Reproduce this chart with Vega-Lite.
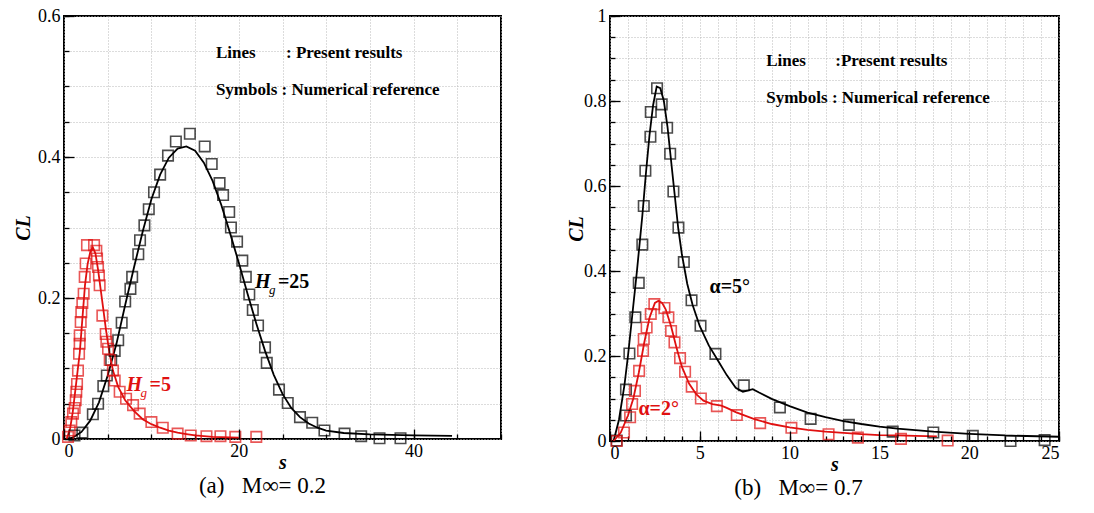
{
  "$schema": "https://vega.github.io/schema/vega-lite/v6.json",
  "background": "white",
  "padding": {"left": 12, "top": 6, "right": 5, "bottom": 2},
  "spacing": 62,
  "config": {
    "font": "Liberation Serif",
    "view": {"stroke": "black", "strokeWidth": 2},
    "axis": {
      "labelFont": "Liberation Serif", "labelFontSize": 18, "labelColor": "black",
      "titleFont": "Liberation Serif", "titleFontSize": 20, "titleFontWeight": "bold",
      "titleFontStyle": "italic", "titleColor": "black",
      "domain": false, "tickColor": "black", "tickWidth": 1.3,
      "gridColor": "#b8b8b8", "gridDash": [1, 2], "gridWidth": 1
    },
    "title": {"font": "Liberation Serif", "fontSize": 23, "fontWeight": "normal", "color": "black"}
  },
  "datasets": {
    "a_pts": [
      {"series": "Hg=25", "s": 1.2, "cl": 0.005}, {"series": "Hg=25", "s": 2.1, "cl": 0.009},
      {"series": "Hg=25", "s": 3.3, "cl": 0.035}, {"series": "Hg=25", "s": 3.9, "cl": 0.05},
      {"series": "Hg=25", "s": 4.5, "cl": 0.075}, {"series": "Hg=25", "s": 4.9, "cl": 0.09},
      {"series": "Hg=25", "s": 5.4, "cl": 0.112}, {"series": "Hg=25", "s": 5.8, "cl": 0.125},
      {"series": "Hg=25", "s": 6.2, "cl": 0.14}, {"series": "Hg=25", "s": 6.6, "cl": 0.165},
      {"series": "Hg=25", "s": 7.0, "cl": 0.195}, {"series": "Hg=25", "s": 7.6, "cl": 0.213},
      {"series": "Hg=25", "s": 7.8, "cl": 0.23}, {"series": "Hg=25", "s": 8.5, "cl": 0.262},
      {"series": "Hg=25", "s": 8.7, "cl": 0.282}, {"series": "Hg=25", "s": 9.2, "cl": 0.303},
      {"series": "Hg=25", "s": 9.7, "cl": 0.326}, {"series": "Hg=25", "s": 10.3, "cl": 0.35},
      {"series": "Hg=25", "s": 11.0, "cl": 0.375}, {"series": "Hg=25", "s": 11.9, "cl": 0.402},
      {"series": "Hg=25", "s": 12.8, "cl": 0.422}, {"series": "Hg=25", "s": 14.4, "cl": 0.433},
      {"series": "Hg=25", "s": 16.1, "cl": 0.415}, {"series": "Hg=25", "s": 16.9, "cl": 0.39},
      {"series": "Hg=25", "s": 17.8, "cl": 0.363}, {"series": "Hg=25", "s": 18.2, "cl": 0.346},
      {"series": "Hg=25", "s": 18.9, "cl": 0.322}, {"series": "Hg=25", "s": 19.1, "cl": 0.3},
      {"series": "Hg=25", "s": 19.8, "cl": 0.28}, {"series": "Hg=25", "s": 20.4, "cl": 0.253},
      {"series": "Hg=25", "s": 20.8, "cl": 0.23}, {"series": "Hg=25", "s": 21.2, "cl": 0.205},
      {"series": "Hg=25", "s": 21.6, "cl": 0.183}, {"series": "Hg=25", "s": 22.2, "cl": 0.161},
      {"series": "Hg=25", "s": 23.0, "cl": 0.13}, {"series": "Hg=25", "s": 23.2, "cl": 0.108},
      {"series": "Hg=25", "s": 24.6, "cl": 0.07}, {"series": "Hg=25", "s": 25.6, "cl": 0.051},
      {"series": "Hg=25", "s": 27.0, "cl": 0.031}, {"series": "Hg=25", "s": 28.4, "cl": 0.023},
      {"series": "Hg=25", "s": 29.8, "cl": 0.012}, {"series": "Hg=25", "s": 32.1, "cl": 0.0076},
      {"series": "Hg=25", "s": 34.0, "cl": 0.004}, {"series": "Hg=25", "s": 36.1, "cl": 0.001},
      {"series": "Hg=25", "s": 38.5, "cl": 0.001},
      {"series": "Hg=5", "s": 0.46, "cl": 0.003}, {"series": "Hg=5", "s": 0.65, "cl": 0.012},
      {"series": "Hg=5", "s": 0.84, "cl": 0.024}, {"series": "Hg=5", "s": 1.03, "cl": 0.036},
      {"series": "Hg=5", "s": 1.22, "cl": 0.044}, {"series": "Hg=5", "s": 1.34, "cl": 0.055},
      {"series": "Hg=5", "s": 1.41, "cl": 0.067}, {"series": "Hg=5", "s": 1.49, "cl": 0.078},
      {"series": "Hg=5", "s": 1.6, "cl": 0.097}, {"series": "Hg=5", "s": 1.72, "cl": 0.121},
      {"series": "Hg=5", "s": 1.79, "cl": 0.135}, {"series": "Hg=5", "s": 1.8, "cl": 0.147},
      {"series": "Hg=5", "s": 1.91, "cl": 0.166}, {"series": "Hg=5", "s": 1.98, "cl": 0.18},
      {"series": "Hg=5", "s": 2.1, "cl": 0.193}, {"series": "Hg=5", "s": 2.25, "cl": 0.206},
      {"series": "Hg=5", "s": 2.37, "cl": 0.23}, {"series": "Hg=5", "s": 2.48, "cl": 0.249},
      {"series": "Hg=5", "s": 2.63, "cl": 0.275}, {"series": "Hg=5", "s": 3.44, "cl": 0.275},
      {"series": "Hg=5", "s": 3.7, "cl": 0.267}, {"series": "Hg=5", "s": 3.78, "cl": 0.256},
      {"series": "Hg=5", "s": 3.89, "cl": 0.244}, {"series": "Hg=5", "s": 4.0, "cl": 0.232},
      {"series": "Hg=5", "s": 4.08, "cl": 0.218}, {"series": "Hg=5", "s": 4.39, "cl": 0.175},
      {"series": "Hg=5", "s": 4.77, "cl": 0.149}, {"series": "Hg=5", "s": 4.85, "cl": 0.138},
      {"series": "Hg=5", "s": 5.04, "cl": 0.128}, {"series": "Hg=5", "s": 5.23, "cl": 0.112},
      {"series": "Hg=5", "s": 5.6, "cl": 0.097}, {"series": "Hg=5", "s": 5.8, "cl": 0.083},
      {"series": "Hg=5", "s": 6.37, "cl": 0.067}, {"series": "Hg=5", "s": 7.1, "cl": 0.057},
      {"series": "Hg=5", "s": 7.9, "cl": 0.048}, {"series": "Hg=5", "s": 8.66, "cl": 0.036},
      {"series": "Hg=5", "s": 10.0, "cl": 0.024}, {"series": "Hg=5", "s": 11.3, "cl": 0.016},
      {"series": "Hg=5", "s": 13.0, "cl": 0.0076}, {"series": "Hg=5", "s": 14.5, "cl": 0.005},
      {"series": "Hg=5", "s": 16.3, "cl": 0.004}, {"series": "Hg=5", "s": 17.9, "cl": 0.004},
      {"series": "Hg=5", "s": 19.6, "cl": 0.003}, {"series": "Hg=5", "s": 22.0, "cl": 0.003}
    ],
    "a_lines": [
      {"series": "Hg=25", "s": 0.3, "cl": 0}, {"series": "Hg=25", "s": 1, "cl": 0.002},
      {"series": "Hg=25", "s": 2, "cl": 0.01}, {"series": "Hg=25", "s": 3, "cl": 0.026},
      {"series": "Hg=25", "s": 4, "cl": 0.052}, {"series": "Hg=25", "s": 5, "cl": 0.09},
      {"series": "Hg=25", "s": 6, "cl": 0.135}, {"series": "Hg=25", "s": 7, "cl": 0.19},
      {"series": "Hg=25", "s": 8, "cl": 0.243}, {"series": "Hg=25", "s": 9, "cl": 0.294},
      {"series": "Hg=25", "s": 10, "cl": 0.34}, {"series": "Hg=25", "s": 11, "cl": 0.375},
      {"series": "Hg=25", "s": 12, "cl": 0.399}, {"series": "Hg=25", "s": 13, "cl": 0.412},
      {"series": "Hg=25", "s": 14, "cl": 0.415}, {"series": "Hg=25", "s": 15, "cl": 0.409},
      {"series": "Hg=25", "s": 16, "cl": 0.392}, {"series": "Hg=25", "s": 17, "cl": 0.366},
      {"series": "Hg=25", "s": 18, "cl": 0.332}, {"series": "Hg=25", "s": 19, "cl": 0.292},
      {"series": "Hg=25", "s": 20, "cl": 0.25}, {"series": "Hg=25", "s": 21, "cl": 0.206},
      {"series": "Hg=25", "s": 22, "cl": 0.164}, {"series": "Hg=25", "s": 23, "cl": 0.125},
      {"series": "Hg=25", "s": 24, "cl": 0.091}, {"series": "Hg=25", "s": 25, "cl": 0.064},
      {"series": "Hg=25", "s": 26, "cl": 0.044}, {"series": "Hg=25", "s": 27, "cl": 0.031},
      {"series": "Hg=25", "s": 28, "cl": 0.022}, {"series": "Hg=25", "s": 29, "cl": 0.016},
      {"series": "Hg=25", "s": 30, "cl": 0.012}, {"series": "Hg=25", "s": 32, "cl": 0.0085},
      {"series": "Hg=25", "s": 35, "cl": 0.0065}, {"series": "Hg=25", "s": 40, "cl": 0.0052},
      {"series": "Hg=25", "s": 44.4, "cl": 0.0045},
      {"series": "Hg=5", "s": 0.3, "cl": 0}, {"series": "Hg=5", "s": 0.7, "cl": 0.015},
      {"series": "Hg=5", "s": 1.0, "cl": 0.038}, {"series": "Hg=5", "s": 1.4, "cl": 0.08},
      {"series": "Hg=5", "s": 1.8, "cl": 0.122}, {"series": "Hg=5", "s": 2.1, "cl": 0.17},
      {"series": "Hg=5", "s": 2.4, "cl": 0.218}, {"series": "Hg=5", "s": 2.7, "cl": 0.248},
      {"series": "Hg=5", "s": 3.0, "cl": 0.265}, {"series": "Hg=5", "s": 3.3, "cl": 0.272},
      {"series": "Hg=5", "s": 3.6, "cl": 0.263}, {"series": "Hg=5", "s": 3.9, "cl": 0.24},
      {"series": "Hg=5", "s": 4.2, "cl": 0.212}, {"series": "Hg=5", "s": 4.5, "cl": 0.184},
      {"series": "Hg=5", "s": 4.8, "cl": 0.155}, {"series": "Hg=5", "s": 5.2, "cl": 0.122},
      {"series": "Hg=5", "s": 5.6, "cl": 0.097}, {"series": "Hg=5", "s": 6.2, "cl": 0.074},
      {"series": "Hg=5", "s": 7, "cl": 0.055}, {"series": "Hg=5", "s": 8, "cl": 0.04},
      {"series": "Hg=5", "s": 9, "cl": 0.028}, {"series": "Hg=5", "s": 10, "cl": 0.021},
      {"series": "Hg=5", "s": 11, "cl": 0.016}, {"series": "Hg=5", "s": 12, "cl": 0.012},
      {"series": "Hg=5", "s": 13, "cl": 0.009}, {"series": "Hg=5", "s": 14, "cl": 0.007},
      {"series": "Hg=5", "s": 15, "cl": 0.005}, {"series": "Hg=5", "s": 17, "cl": 0.003},
      {"series": "Hg=5", "s": 20, "cl": 0.002}
    ],
    "a_text": [
      {"s": 17.38, "cl": 0.5475, "text": "Lines"},
      {"s": 25.4, "cl": 0.5475, "text": ": Present results"},
      {"s": 17.38, "cl": 0.4946, "text": "Symbols : Numerical reference"}
    ],
    "a_lab": [
      {"series": "Hg=25", "s": 21.85, "cl": 0.2227, "main": "H", "sub": "g", "eq": "=25"},
      {"series": "Hg=5", "s": 7.15, "cl": 0.076, "main": "H", "sub": "g", "eq": "=5"}
    ],
    "b_pts": [
      {"series": "α=5°", "s": 0.37, "cl": 0.001}, {"series": "α=5°", "s": 0.89, "cl": 0.06},
      {"series": "α=5°", "s": 0.89, "cl": 0.121}, {"series": "α=5°", "s": 1.08, "cl": 0.206},
      {"series": "α=5°", "s": 1.41, "cl": 0.291}, {"series": "α=5°", "s": 1.6, "cl": 0.372},
      {"series": "α=5°", "s": 1.8, "cl": 0.462}, {"series": "α=5°", "s": 1.88, "cl": 0.553},
      {"series": "α=5°", "s": 1.97, "cl": 0.636}, {"series": "α=5°", "s": 2.25, "cl": 0.716},
      {"series": "α=5°", "s": 2.27, "cl": 0.774}, {"series": "α=5°", "s": 2.62, "cl": 0.83},
      {"series": "α=5°", "s": 2.88, "cl": 0.792}, {"series": "α=5°", "s": 3.18, "cl": 0.737},
      {"series": "α=5°", "s": 3.35, "cl": 0.676}, {"series": "α=5°", "s": 3.53, "cl": 0.587},
      {"series": "α=5°", "s": 3.81, "cl": 0.502}, {"series": "α=5°", "s": 4.11, "cl": 0.421},
      {"series": "α=5°", "s": 4.54, "cl": 0.331}, {"series": "α=5°", "s": 5.04, "cl": 0.271},
      {"series": "α=5°", "s": 5.87, "cl": 0.205}, {"series": "α=5°", "s": 7.45, "cl": 0.131},
      {"series": "α=5°", "s": 9.46, "cl": 0.079}, {"series": "α=5°", "s": 11.17, "cl": 0.052},
      {"series": "α=5°", "s": 13.3, "cl": 0.038}, {"series": "α=5°", "s": 15.74, "cl": 0.022},
      {"series": "α=5°", "s": 18.0, "cl": 0.02}, {"series": "α=5°", "s": 20.2, "cl": 0.012},
      {"series": "α=5°", "s": 22.3, "cl": 0.0}, {"series": "α=5°", "s": 24.2, "cl": 0.002},
      {"series": "α=2°", "s": 0.37, "cl": 0.0}, {"series": "α=2°", "s": 0.78, "cl": 0.02},
      {"series": "α=2°", "s": 1.12, "cl": 0.056}, {"series": "α=2°", "s": 1.23, "cl": 0.087},
      {"series": "α=2°", "s": 1.39, "cl": 0.118}, {"series": "α=2°", "s": 1.62, "cl": 0.165},
      {"series": "α=2°", "s": 1.84, "cl": 0.212}, {"series": "α=2°", "s": 1.88, "cl": 0.24},
      {"series": "α=2°", "s": 2.04, "cl": 0.267}, {"series": "α=2°", "s": 2.27, "cl": 0.299},
      {"series": "α=2°", "s": 2.47, "cl": 0.322}, {"series": "α=2°", "s": 3.03, "cl": 0.313},
      {"series": "α=2°", "s": 3.25, "cl": 0.291}, {"series": "α=2°", "s": 3.4, "cl": 0.259},
      {"series": "α=2°", "s": 3.59, "cl": 0.232}, {"series": "α=2°", "s": 3.9, "cl": 0.195},
      {"series": "α=2°", "s": 4.18, "cl": 0.163}, {"series": "α=2°", "s": 4.55, "cl": 0.128},
      {"series": "α=2°", "s": 5.06, "cl": 0.1}, {"series": "α=2°", "s": 5.95, "cl": 0.082},
      {"series": "α=2°", "s": 7.06, "cl": 0.061}, {"series": "α=2°", "s": 8.36, "cl": 0.042},
      {"series": "α=2°", "s": 10.1, "cl": 0.031}, {"series": "α=2°", "s": 12.17, "cl": 0.016},
      {"series": "α=2°", "s": 13.8, "cl": 0.008}, {"series": "α=2°", "s": 16.2, "cl": 0.005},
      {"series": "α=2°", "s": 18.8, "cl": 0.001}
    ],
    "b_lines": [
      {"series": "α=5°", "s": 0.2, "cl": 0}, {"series": "α=5°", "s": 0.5, "cl": 0.05},
      {"series": "α=5°", "s": 0.8, "cl": 0.13}, {"series": "α=5°", "s": 1.0, "cl": 0.2},
      {"series": "α=5°", "s": 1.2, "cl": 0.28}, {"series": "α=5°", "s": 1.5, "cl": 0.4},
      {"series": "α=5°", "s": 1.8, "cl": 0.53}, {"series": "α=5°", "s": 2.0, "cl": 0.63},
      {"series": "α=5°", "s": 2.2, "cl": 0.72}, {"series": "α=5°", "s": 2.4, "cl": 0.79},
      {"series": "α=5°", "s": 2.6, "cl": 0.834}, {"series": "α=5°", "s": 2.8, "cl": 0.83},
      {"series": "α=5°", "s": 3.0, "cl": 0.8}, {"series": "α=5°", "s": 3.2, "cl": 0.74},
      {"series": "α=5°", "s": 3.4, "cl": 0.66}, {"series": "α=5°", "s": 3.6, "cl": 0.58},
      {"series": "α=5°", "s": 3.8, "cl": 0.5}, {"series": "α=5°", "s": 4.0, "cl": 0.44},
      {"series": "α=5°", "s": 4.3, "cl": 0.37}, {"series": "α=5°", "s": 4.6, "cl": 0.32},
      {"series": "α=5°", "s": 5.0, "cl": 0.27}, {"series": "α=5°", "s": 5.5, "cl": 0.225},
      {"series": "α=5°", "s": 6.0, "cl": 0.19}, {"series": "α=5°", "s": 6.5, "cl": 0.155},
      {"series": "α=5°", "s": 7.0, "cl": 0.125}, {"series": "α=5°", "s": 7.4, "cl": 0.116},
      {"series": "α=5°", "s": 7.7, "cl": 0.119}, {"series": "α=5°", "s": 7.95, "cl": 0.122},
      {"series": "α=5°", "s": 8.3, "cl": 0.114}, {"series": "α=5°", "s": 9, "cl": 0.099},
      {"series": "α=5°", "s": 10, "cl": 0.082}, {"series": "α=5°", "s": 11, "cl": 0.067},
      {"series": "α=5°", "s": 12, "cl": 0.056}, {"series": "α=5°", "s": 13, "cl": 0.047},
      {"series": "α=5°", "s": 14, "cl": 0.04}, {"series": "α=5°", "s": 15, "cl": 0.034},
      {"series": "α=5°", "s": 16, "cl": 0.029}, {"series": "α=5°", "s": 18, "cl": 0.022},
      {"series": "α=5°", "s": 20, "cl": 0.017}, {"series": "α=5°", "s": 22, "cl": 0.013},
      {"series": "α=5°", "s": 25, "cl": 0.01},
      {"series": "α=2°", "s": 0.2, "cl": 0}, {"series": "α=2°", "s": 0.6, "cl": 0.02},
      {"series": "α=2°", "s": 1.0, "cl": 0.06}, {"series": "α=2°", "s": 1.3, "cl": 0.1},
      {"series": "α=2°", "s": 1.6, "cl": 0.16}, {"series": "α=2°", "s": 1.9, "cl": 0.23},
      {"series": "α=2°", "s": 2.2, "cl": 0.29}, {"series": "α=2°", "s": 2.5, "cl": 0.325},
      {"series": "α=2°", "s": 2.7, "cl": 0.33}, {"series": "α=2°", "s": 2.9, "cl": 0.325},
      {"series": "α=2°", "s": 3.1, "cl": 0.31}, {"series": "α=2°", "s": 3.4, "cl": 0.27},
      {"series": "α=2°", "s": 3.7, "cl": 0.22}, {"series": "α=2°", "s": 4.0, "cl": 0.175},
      {"series": "α=2°", "s": 4.4, "cl": 0.135}, {"series": "α=2°", "s": 4.8, "cl": 0.11},
      {"series": "α=2°", "s": 5.2, "cl": 0.095}, {"series": "α=2°", "s": 5.7, "cl": 0.087},
      {"series": "α=2°", "s": 6.2, "cl": 0.083}, {"series": "α=2°", "s": 6.5, "cl": 0.078},
      {"series": "α=2°", "s": 7, "cl": 0.068}, {"series": "α=2°", "s": 8, "cl": 0.052},
      {"series": "α=2°", "s": 9, "cl": 0.04}, {"series": "α=2°", "s": 10, "cl": 0.032},
      {"series": "α=2°", "s": 11, "cl": 0.026}, {"series": "α=2°", "s": 12, "cl": 0.022},
      {"series": "α=2°", "s": 13, "cl": 0.019}, {"series": "α=2°", "s": 14, "cl": 0.016},
      {"series": "α=2°", "s": 15, "cl": 0.014}, {"series": "α=2°", "s": 16, "cl": 0.013},
      {"series": "α=2°", "s": 17, "cl": 0.012}, {"series": "α=2°", "s": 18.2, "cl": 0.011}
    ],
    "b_text": [
      {"s": 8.7, "cl": 0.894, "text": "Lines"},
      {"s": 12.54, "cl": 0.894, "text": ":Present results"},
      {"s": 8.7, "cl": 0.806, "text": "Symbols : Numerical reference"}
    ],
    "b_lab": [
      {"series": "α=5°", "s": 5.54, "cl": 0.362, "text": "α=5°"},
      {"series": "α=2°", "s": 1.58, "cl": 0.075, "text": "α=2°"}
    ]
  },
  "hconcat": [
    {
      "width": 437, "height": 423,
      "title": {"text": "(a)\u00a0\u00a0 M∞= 0.2", "orient": "bottom", "offset": 3, "dx": -20},
      "layer": [
        {
          "data": {"name": "a_lines"},
          "mark": {"type": "line", "strokeWidth": 1.8, "clip": true},
          "encoding": {
            "x": {"field": "s", "type": "quantitative", "scale": {"domain": [0, 50], "nice": false},
              "axis": {"orient": "bottom", "values": [0,5,10,15,20,25,30,35,40,45,50], "labels": false, "grid": true, "tickSize": -5, "title": null, "zindex": 0}},
            "y": {"field": "cl", "type": "quantitative", "scale": {"domain": [0, 0.6], "nice": false},
              "axis": {"orient": "left", "values": [0,0.05,0.1,0.15,0.2,0.25,0.3,0.35,0.4,0.45,0.5,0.55,0.6], "labels": false, "grid": true, "tickSize": -5, "title": null, "zindex": 0}},
            "color": {"field": "series", "type": "nominal", "legend": null,
              "scale": {"domain": ["Hg=25", "Hg=5", "α=5°", "α=2°"], "range": ["#000000", "#e01010", "#000000", "#e01010"]}}
          }
        },
        {
          "data": {"name": "a_pts"},
          "mark": {"type": "point", "shape": "square", "size": 110, "strokeWidth": 1.6, "filled": false},
          "encoding": {
            "x": {"field": "s", "type": "quantitative",
              "axis": {"orient": "bottom", "values": [0, 20, 40], "grid": false, "tickSize": -10, "labelPadding": 13, "title": "s", "titlePadding": -8, "zindex": 1}},
            "y": {"field": "cl", "type": "quantitative",
              "axis": {"orient": "left", "values": [0, 0.2, 0.4, 0.6], "format": ".1~f", "grid": false, "tickSize": -10, "labelPadding": 14, "title": "CL", "titlePadding": 4, "zindex": 1}},
            "color": {"field": "series", "type": "nominal", "legend": null}
          }
        },
        {
          "data": {"name": "a_text"},
          "mark": {"type": "text", "align": "left", "baseline": "middle", "fontSize": 17, "fontWeight": "bold", "font": "Liberation Serif", "color": "black"},
          "encoding": {
            "x": {"field": "s", "type": "quantitative", "axis": null},
            "y": {"field": "cl", "type": "quantitative", "axis": null},
            "text": {"field": "text"}
          }
        },
        {
          "data": {"name": "a_lab"},
          "mark": {"type": "text", "align": "left", "baseline": "middle", "fontSize": 20, "fontWeight": "bold", "fontStyle": "italic", "font": "Liberation Serif"},
          "encoding": {
            "x": {"field": "s", "type": "quantitative", "axis": null},
            "y": {"field": "cl", "type": "quantitative", "axis": null},
            "text": {"field": "main"},
            "color": {"field": "series", "type": "nominal", "legend": null}
          }
        },
        {
          "data": {"name": "a_lab"},
          "mark": {"type": "text", "align": "left", "baseline": "middle", "fontSize": 13, "fontStyle": "italic", "font": "Liberation Serif", "dx": 14, "dy": 8},
          "encoding": {
            "x": {"field": "s", "type": "quantitative", "axis": null},
            "y": {"field": "cl", "type": "quantitative", "axis": null},
            "text": {"field": "sub"},
            "color": {"field": "series", "type": "nominal", "legend": null}
          }
        },
        {
          "data": {"name": "a_lab"},
          "mark": {"type": "text", "align": "left", "baseline": "middle", "fontSize": 20, "fontWeight": "bold", "font": "Liberation Serif", "dx": 23},
          "encoding": {
            "x": {"field": "s", "type": "quantitative", "axis": null},
            "y": {"field": "cl", "type": "quantitative", "axis": null},
            "text": {"field": "eq"},
            "color": {"field": "series", "type": "nominal", "legend": null}
          }
        }
      ],
      "resolve": {"axis": {"x": "independent", "y": "independent"}}
    },
    {
      "width": 449, "height": 425,
      "title": {"text": "(b)\u00a0\u00a0 M∞= 0.7", "orient": "bottom", "offset": 3, "dx": -36},
      "layer": [
        {
          "data": {"name": "b_lines"},
          "mark": {"type": "line", "strokeWidth": 1.8, "clip": true},
          "encoding": {
            "x": {"field": "s", "type": "quantitative", "scale": {"domain": [0, 25], "nice": false},
              "axis": {"orient": "bottom", "values": [0,1,2,3,4,5,6,7,8,9,10,11,12,13,14,15,16,17,18,19,20,21,22,23,24,25], "labels": false, "grid": true, "tickSize": -5, "title": null, "zindex": 0}},
            "y": {"field": "cl", "type": "quantitative", "scale": {"domain": [0, 1], "nice": false},
              "axis": {"orient": "left", "values": [0,0.05,0.1,0.15,0.2,0.25,0.3,0.35,0.4,0.45,0.5,0.55,0.6,0.65,0.7,0.75,0.8,0.85,0.9,0.95,1], "labels": false, "grid": true, "tickSize": -5, "title": null, "zindex": 0}},
            "color": {"field": "series", "type": "nominal", "legend": null,
              "scale": {"domain": ["Hg=25", "Hg=5", "α=5°", "α=2°"], "range": ["#000000", "#e01010", "#000000", "#e01010"]}}
          }
        },
        {
          "data": {"name": "b_pts"},
          "mark": {"type": "point", "shape": "square", "size": 110, "strokeWidth": 1.6, "filled": false},
          "encoding": {
            "x": {"field": "s", "type": "quantitative",
              "axis": {"orient": "bottom", "values": [0, 5, 10, 15, 20, 25], "grid": false, "tickSize": -10, "labelPadding": 13, "title": "s", "titlePadding": -8, "zindex": 1}},
            "y": {"field": "cl", "type": "quantitative",
              "axis": {"orient": "left", "values": [0, 0.2, 0.4, 0.6, 0.8, 1], "format": ".1~f", "grid": false, "tickSize": -10, "labelPadding": 14, "title": "CL", "titlePadding": -3, "zindex": 1}},
            "color": {"field": "series", "type": "nominal", "legend": null}
          }
        },
        {
          "data": {"name": "b_text"},
          "mark": {"type": "text", "align": "left", "baseline": "middle", "fontSize": 17, "fontWeight": "bold", "font": "Liberation Serif", "color": "black"},
          "encoding": {
            "x": {"field": "s", "type": "quantitative", "axis": null},
            "y": {"field": "cl", "type": "quantitative", "axis": null},
            "text": {"field": "text"}
          }
        },
        {
          "data": {"name": "b_lab"},
          "mark": {"type": "text", "align": "left", "baseline": "middle", "fontSize": 20, "fontWeight": "bold", "font": "Liberation Serif"},
          "encoding": {
            "x": {"field": "s", "type": "quantitative", "axis": null},
            "y": {"field": "cl", "type": "quantitative", "axis": null},
            "text": {"field": "text"},
            "color": {"field": "series", "type": "nominal", "legend": null}
          }
        }
      ],
      "resolve": {"axis": {"x": "independent", "y": "independent"}}
    }
  ]
}
